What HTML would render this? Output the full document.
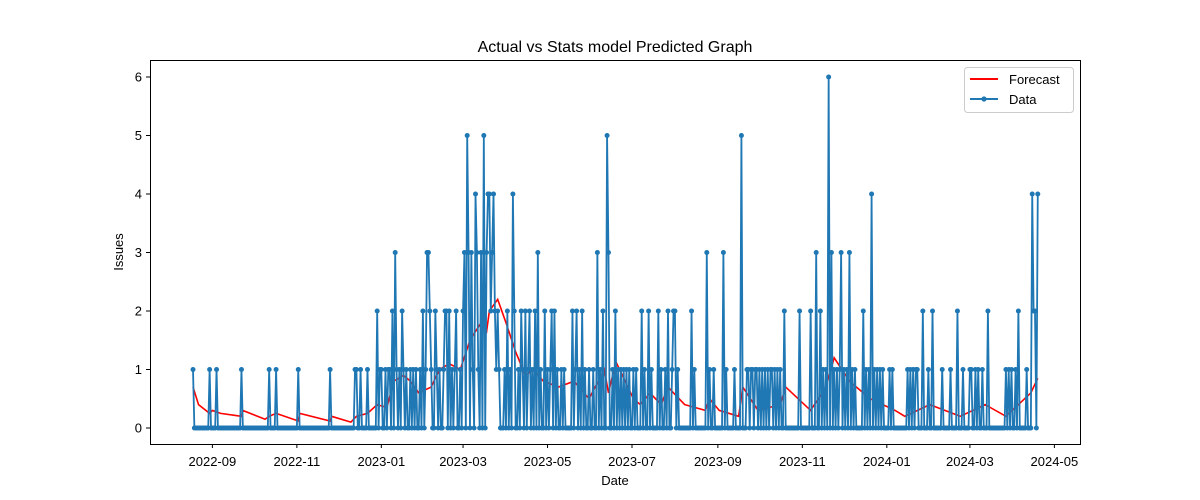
<!DOCTYPE html>
<html><head><meta charset="utf-8"><style>
html,body{margin:0;padding:0;background:#fff;}
svg{display:block;font-family:"Liberation Sans","DejaVu Sans",sans-serif;}
</style></head><body>
<svg id="chart" width="1200" height="500" xmlns="http://www.w3.org/2000/svg">
<rect width="1200" height="500" fill="#fff"/>
<text x="615" y="52" text-anchor="middle" font-size="16">Actual vs Stats model Predicted Graph</text>
<text x="615" y="485" text-anchor="middle" font-size="13">Date</text>
<text transform="translate(123,252) rotate(-90)" text-anchor="middle" font-size="13">Issues</text>
<g id="grid-ticks"></g>
<g id="series"></g>
<rect x="150.5" y="60.5" width="930" height="384" fill="none" stroke="#000" stroke-width="1"/>
<g>
<rect x="964.5" y="67.5" width="109" height="45" rx="3" fill="#fff" stroke="#ccc"/>
<line x1="970" y1="79" x2="998" y2="79" stroke="red" stroke-width="2"/>
<text x="1009" y="84" font-size="13">Forecast</text>
<line x1="970" y1="99" x2="998" y2="99" stroke="#1f77b4" stroke-width="2"/>
<circle cx="984" cy="99" r="2.6" fill="#1f77b4"/>
<text x="1009" y="104" font-size="13">Data</text>
</g>
</svg>
<script>
const startUTC = Date.UTC(2022,7,18);
const totalDays = 611;
const yTicks = [0,1,2,3,4,5,6];
const xTickLabels = ["2022-09","2022-11","2023-01","2023-03","2023-05","2023-07","2023-09","2023-11","2024-01","2024-03","2024-05"];
const dataDays = [0,12,17,35,55,60,76,99,117,118,121,126,133,135,136,139,141,142,144,146,147,149,151,152,154,157,159,161,164,166,168,169,170,171,172,175,176,178,181,182,183,185,187,189,190,193,195,196,198,199,201,202,204,205,206,208,210,212,213,214,215,216,217,218,219,220,221,225,227,229,231,232,235,237,238,240,242,243,245,247,249,251,254,256,258,259,261,263,266,268,274,276,277,279,281,283,286,289,292,294,296,299,300,303,305,307,309,311,313,315,318,320,324,326,329,331,336,338,341,343,346,347,348,350,360,362,371,373,376,383,385,391,396,400,401,403,404,406,407,409,411,413,415,417,418,420,422,424,427,438,446,450,453,455,457,459,461,463,465,467,468,470,472,474,476,478,484,486,488,490,492,494,496,498,503,505,516,518,520,522,523,527,531,534,541,547,552,556,561,562,565,567,570,574,587,589,591,594,596,602,606,607,608,610];
const dataVals = [1,1,1,1,1,1,1,1,1,1,1,1,2,1,1,1,1,1,2,3,1,1,2,1,1,1,1,1,1,2,1,3,3,2,1,2,1,1,1,2,2,2,1,1,2,1,2,3,5,3,3,1,4,3,1,3,5,3,4,4,2,3,4,2,1,2,1,1,2,1,4,2,1,2,1,2,1,2,1,2,3,1,2,1,1,2,2,1,1,1,2,1,2,1,2,1,1,1,3,1,2,5,3,1,2,1,1,1,1,1,1,1,2,1,2,1,2,1,1,2,1,2,2,1,2,1,3,1,1,3,1,1,5,1,1,1,1,1,1,1,1,1,1,1,1,1,1,1,2,2,2,3,2,1,1,6,3,1,1,1,3,1,1,3,1,1,2,1,1,4,1,1,1,1,1,1,1,1,1,1,1,2,1,2,1,1,2,1,1,1,1,1,1,2,1,1,1,1,2,1,4,2,2,4];
const fcDays = [0,4,12,14,20,35,36,52,55,60,76,77,99,100,114,118,126,133,140,145,152,157,163,172,178,185,193,200,208,212,214,220,226,233,240,246,253,264,275,286,297,300,303,306,310,318,323,330,338,343,355,370,373,380,394,397,408,424,428,446,457,463,474,489,507,514,532,554,572,587,605,610];
const fcVals = [0.7,0.4,0.25,0.3,0.25,0.2,0.3,0.15,0.2,0.25,0.12,0.25,0.12,0.2,0.1,0.2,0.25,0.4,0.35,0.8,0.9,0.8,0.6,0.7,1.0,1.1,1.0,1.5,1.8,1.65,2.0,2.2,1.8,1.3,0.9,1.0,0.8,0.7,0.8,0.5,1.0,0.6,0.9,1.1,0.9,0.5,0.4,0.6,0.4,0.7,0.4,0.3,0.5,0.3,0.2,0.7,0.3,0.4,0.7,0.3,0.7,1.2,0.8,0.5,0.3,0.2,0.4,0.2,0.4,0.2,0.6,0.85];

const NS="http://www.w3.org/2000/svg";
const PX_PER_DAY = 842/608;
function xs(d){ return 193 + d*PX_PER_DAY; }
function ys(v){ return 428 - v*58.5; }
function mk(tag, attrs){ const e=document.createElementNS(NS,tag); for(const k in attrs) e.setAttribute(k,attrs[k]); return e; }
const gt=document.getElementById('grid-ticks');
yTicks.forEach(v=>{
  const l=mk('line',{x1:146,x2:150,y1:ys(v),y2:ys(v),stroke:'#000'});
  
  
  gt.appendChild(l);
  const t=mk('text',{x:142,y:ys(v)+4.5,'text-anchor':'end','font-size':13});
  
  
  t.textContent=v; gt.appendChild(t);
});
xTickLabels.forEach(s=>{
  const [yy,mm]=s.split('-').map(Number);
  const d=(Date.UTC(yy,mm-1,1)-startUTC)/86400000;
  const x=xs(d);
  const l=mk('line',{x1:x,x2:x,y1:444,y2:448,stroke:'#000'});
  
  
  gt.appendChild(l);
  const t=mk('text',{x:x,y:466,'text-anchor':'middle','font-size':13});
  
  
  t.textContent=s; gt.appendChild(t);
});
const g=document.getElementById('series');
const daily=new Array(totalDays).fill(0);
dataDays.forEach((d,i)=>{ daily[d]=dataVals[i]; });
let pd='';
daily.forEach((v,d)=>{ pd+=(d?'L':'M')+xs(d).toFixed(2)+' '+ys(v).toFixed(2); });
const dl=mk('path',{d:pd,fill:'none',stroke:'#1f77b4','stroke-width':1.8,'stroke-linejoin':'round'});


let pf='';
fcDays.forEach((d,i)=>{ pf+=(i?'L':'M')+xs(d).toFixed(2)+' '+ys(fcVals[i]).toFixed(2); });
const fl=mk('path',{d:pf,fill:'none',stroke:'red','stroke-width':1.6});


g.appendChild(fl);
g.appendChild(dl);
const mg=mk('g',{fill:'#1f77b4'});


daily.forEach((v,d)=>{
  const c=mk('circle',{cx:xs(d).toFixed(2),cy:ys(v).toFixed(2),r:2.5});
  mg.appendChild(c);
});
g.appendChild(mg);
</script>
</body></html>
